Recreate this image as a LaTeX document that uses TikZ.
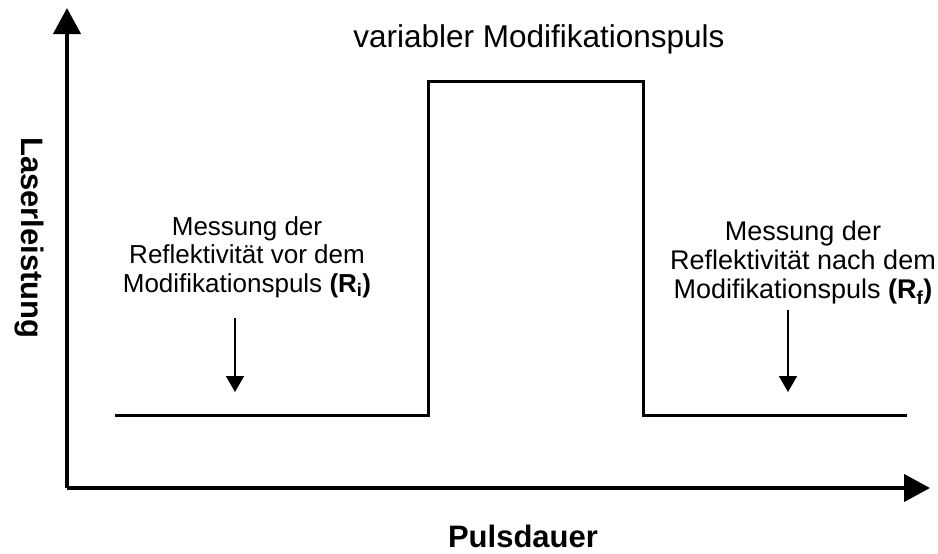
\documentclass[tikz,border=0pt]{standalone}
\usepackage{fontspec}
\setmainfont{Liberation Sans}
\usetikzlibrary{arrows.meta}
\begin{document}
\begin{tikzpicture}[x=1pt,y=-1pt,
  axis/.style={line width=4pt,-{Triangle[width=27pt,length=26pt]}},
  pulse/.style={line width=3pt,line join=miter},
  marker/.style={line width=1.7pt,-{Triangle[width=18pt,length=16pt]}},
  lbl/.style={align=center,font=\fontsize{26}{28.5}\selectfont,inner sep=0pt},
  title/.style={font=\fontsize{31}{34}\selectfont\bfseries,inner sep=0pt}]
\useasboundingbox (0,0) rectangle (938,554);
\coordinate (O) at (67,488);
\coordinate (Ytop) at (67,8);
\coordinate (Xend) at (930,488);
\draw[axis] (O) -- (Ytop);
\draw[axis] (O) -- (Xend);
\coordinate (p0) at (115,415);
\coordinate (p1) at (428,415);
\coordinate (p2) at (428,81);
\coordinate (p3) at (643,81);
\coordinate (p4) at (643,415);
\coordinate (p5) at (907,415);
\draw[pulse] (p0) -- (p1) -- (p2) -- (p3) -- (p4) -- (p5);
\node[font=\fontsize{31.5}{34}\selectfont,inner sep=0pt,anchor=base] (ttl) at (539,47) {variabler Modifikationspuls};
\node[lbl] (li) at (247,257) {Messung der\\Reflektivität vor dem\\Modifikationspuls \textbf{(R\textsubscript{i})}};
\node[lbl,font=\fontsize{27}{29}\selectfont] (ri) at (803,263) {Messung der\\Reflektivität nach dem\\Modifikationspuls \textbf{(R\textsubscript{f})}};
\coordinate (a1s) at (235,318);
\coordinate (a1e) at (235,392);
\coordinate (a2s) at (788,310);
\coordinate (a2e) at (788,392);
\draw[marker] (a1s) -- (a1e);
\draw[marker] (a2s) -- (a2e);
\node[title,rotate=-90] (yl) at (29,238) {Laserleistung};
\node[title,anchor=base] (xl) at (523,547) {Pulsdauer};
\end{tikzpicture}
\end{document}
